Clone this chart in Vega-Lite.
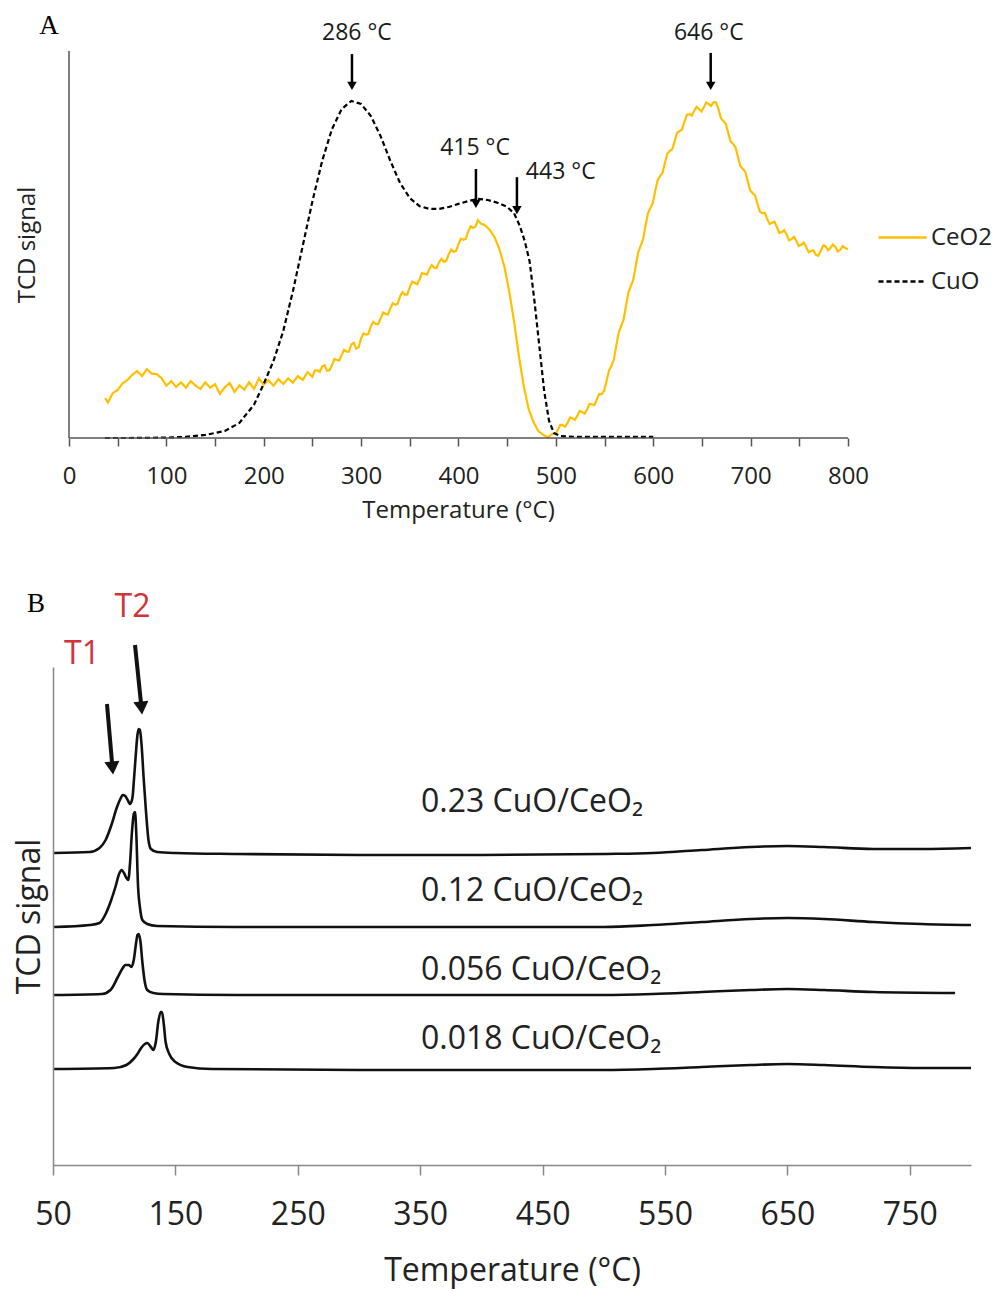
{
  "$schema": "https://vega.github.io/schema/vega-lite/v6.json",
  "padding": {"left": 13, "top": 11, "right": 0, "bottom": 8},
  "background": "white",
  "spacing": 67,
  "config": {
    "view": {"stroke": null},
    "font": "Open Sans",
    "axis": {"grid": false}
  },
  "datasets": {
    "tprA": [
      {"series": "CeO2", "T": 37, "v": 10.3}, {"series": "CeO2", "T": 40, "v": 9.2}, {"series": "CeO2", "T": 45, "v": 11.6},
      {"series": "CeO2", "T": 50, "v": 12.4}, {"series": "CeO2", "T": 55, "v": 14.1}, {"series": "CeO2", "T": 60, "v": 15.0},
      {"series": "CeO2", "T": 65, "v": 16.3}, {"series": "CeO2", "T": 70, "v": 17.3}, {"series": "CeO2", "T": 75, "v": 16.0},
      {"series": "CeO2", "T": 80, "v": 17.8}, {"series": "CeO2", "T": 85, "v": 16.6}, {"series": "CeO2", "T": 90, "v": 16.5},
      {"series": "CeO2", "T": 95, "v": 15.5}, {"series": "CeO2", "T": 100, "v": 13.5}, {"series": "CeO2", "T": 105, "v": 14.7},
      {"series": "CeO2", "T": 110, "v": 13.2}, {"series": "CeO2", "T": 115, "v": 14.4}, {"series": "CeO2", "T": 120, "v": 13.0},
      {"series": "CeO2", "T": 125, "v": 14.7}, {"series": "CeO2", "T": 130, "v": 13.5}, {"series": "CeO2", "T": 135, "v": 12.7},
      {"series": "CeO2", "T": 140, "v": 14.4}, {"series": "CeO2", "T": 145, "v": 13.0}, {"series": "CeO2", "T": 150, "v": 13.9},
      {"series": "CeO2", "T": 155, "v": 11.4}, {"series": "CeO2", "T": 160, "v": 13.1}, {"series": "CeO2", "T": 165, "v": 14.2},
      {"series": "CeO2", "T": 170, "v": 11.9}, {"series": "CeO2", "T": 175, "v": 13.6}, {"series": "CeO2", "T": 180, "v": 12.5},
      {"series": "CeO2", "T": 185, "v": 14.4}, {"series": "CeO2", "T": 190, "v": 12.7}, {"series": "CeO2", "T": 195, "v": 15.4},
      {"series": "CeO2", "T": 200, "v": 13.8}, {"series": "CeO2", "T": 205, "v": 14.9}, {"series": "CeO2", "T": 210, "v": 13.5},
      {"series": "CeO2", "T": 215, "v": 15.2}, {"series": "CeO2", "T": 220, "v": 14.0}, {"series": "CeO2", "T": 225, "v": 15.4},
      {"series": "CeO2", "T": 230, "v": 14.3}, {"series": "CeO2", "T": 235, "v": 16.0}, {"series": "CeO2", "T": 240, "v": 15.0},
      {"series": "CeO2", "T": 245, "v": 17.0}, {"series": "CeO2", "T": 250, "v": 15.8}, {"series": "CeO2", "T": 255, "v": 17.5},
      {"series": "CeO2", "T": 260, "v": 18.5}, {"series": "CeO2", "T": 265, "v": 17.4}, {"series": "CeO2", "T": 270, "v": 18.8},
      {"series": "CeO2", "T": 275, "v": 20.2}, {"series": "CeO2", "T": 280, "v": 21.4}, {"series": "CeO2", "T": 285, "v": 22.3},
      {"series": "CeO2", "T": 290, "v": 24.2}, {"series": "CeO2", "T": 295, "v": 23.1}, {"series": "CeO2", "T": 300, "v": 25.8},
      {"series": "CeO2", "T": 305, "v": 26.7}, {"series": "CeO2", "T": 310, "v": 28.9}, {"series": "CeO2", "T": 315, "v": 29.5},
      {"series": "CeO2", "T": 320, "v": 30.9}, {"series": "CeO2", "T": 325, "v": 32.1}, {"series": "CeO2", "T": 330, "v": 33.5},
      {"series": "CeO2", "T": 335, "v": 34.4}, {"series": "CeO2", "T": 340, "v": 36.6}, {"series": "CeO2", "T": 345, "v": 37.0},
      {"series": "CeO2", "T": 350, "v": 39.0}, {"series": "CeO2", "T": 355, "v": 40.1}, {"series": "CeO2", "T": 360, "v": 41.0},
      {"series": "CeO2", "T": 365, "v": 42.4}, {"series": "CeO2", "T": 370, "v": 43.6}, {"series": "CeO2", "T": 375, "v": 44.0},
      {"series": "CeO2", "T": 380, "v": 45.4}, {"series": "CeO2", "T": 385, "v": 45.5}, {"series": "CeO2", "T": 390, "v": 47.5},
      {"series": "CeO2", "T": 395, "v": 48.1}, {"series": "CeO2", "T": 400, "v": 50.1}, {"series": "CeO2", "T": 405, "v": 51.2},
      {"series": "CeO2", "T": 410, "v": 53.4}, {"series": "CeO2", "T": 415, "v": 54.3}, {"series": "CeO2", "T": 420, "v": 56.3},
      {"series": "CeO2", "T": 423, "v": 55.4}, {"series": "CeO2", "T": 427, "v": 55.0}, {"series": "CeO2", "T": 432, "v": 53.8},
      {"series": "CeO2", "T": 437, "v": 51.9}, {"series": "CeO2", "T": 442, "v": 48.8}, {"series": "CeO2", "T": 447, "v": 44.4},
      {"series": "CeO2", "T": 452, "v": 38.0}, {"series": "CeO2", "T": 457, "v": 30.2}, {"series": "CeO2", "T": 462, "v": 21.2},
      {"series": "CeO2", "T": 467, "v": 13.4}, {"series": "CeO2", "T": 472, "v": 7.5}, {"series": "CeO2", "T": 477, "v": 4.1},
      {"series": "CeO2", "T": 482, "v": 1.8}, {"series": "CeO2", "T": 487, "v": 0.8}, {"series": "CeO2", "T": 492, "v": 0.2},
      {"series": "CeO2", "T": 497, "v": 1.2}, {"series": "CeO2", "T": 502, "v": 2.1}, {"series": "CeO2", "T": 507, "v": 3.3},
      {"series": "CeO2", "T": 512, "v": 3.9}, {"series": "CeO2", "T": 517, "v": 5.1}, {"series": "CeO2", "T": 522, "v": 5.7},
      {"series": "CeO2", "T": 527, "v": 6.7}, {"series": "CeO2", "T": 532, "v": 7.3}, {"series": "CeO2", "T": 537, "v": 8.7},
      {"series": "CeO2", "T": 542, "v": 9.9}, {"series": "CeO2", "T": 547, "v": 11.3}, {"series": "CeO2", "T": 552, "v": 14.7},
      {"series": "CeO2", "T": 557, "v": 18.6}, {"series": "CeO2", "T": 562, "v": 23.8}, {"series": "CeO2", "T": 567, "v": 28.9},
      {"series": "CeO2", "T": 572, "v": 34.1}, {"series": "CeO2", "T": 577, "v": 39.3}, {"series": "CeO2", "T": 582, "v": 44.4},
      {"series": "CeO2", "T": 587, "v": 49.6}, {"series": "CeO2", "T": 592, "v": 54.8}, {"series": "CeO2", "T": 597, "v": 59.4},
      {"series": "CeO2", "T": 602, "v": 63.8}, {"series": "CeO2", "T": 607, "v": 67.7}, {"series": "CeO2", "T": 612, "v": 71.1},
      {"series": "CeO2", "T": 617, "v": 74.2}, {"series": "CeO2", "T": 622, "v": 76.7}, {"series": "CeO2", "T": 627, "v": 79.3},
      {"series": "CeO2", "T": 632, "v": 81.7}, {"series": "CeO2", "T": 637, "v": 83.7}, {"series": "CeO2", "T": 642, "v": 84.5},
      {"series": "CeO2", "T": 647, "v": 85.0}, {"series": "CeO2", "T": 652, "v": 85.5}, {"series": "CeO2", "T": 657, "v": 86.3},
      {"series": "CeO2", "T": 662, "v": 86.8}, {"series": "CeO2", "T": 667, "v": 85.0}, {"series": "CeO2", "T": 672, "v": 81.9},
      {"series": "CeO2", "T": 677, "v": 78.8}, {"series": "CeO2", "T": 682, "v": 76.0}, {"series": "CeO2", "T": 687, "v": 72.6},
      {"series": "CeO2", "T": 692, "v": 69.5}, {"series": "CeO2", "T": 697, "v": 66.4}, {"series": "CeO2", "T": 702, "v": 63.3},
      {"series": "CeO2", "T": 707, "v": 60.5}, {"series": "CeO2", "T": 712, "v": 58.1}, {"series": "CeO2", "T": 717, "v": 56.6},
      {"series": "CeO2", "T": 722, "v": 55.6}, {"series": "CeO2", "T": 727, "v": 54.5}, {"series": "CeO2", "T": 732, "v": 53.2},
      {"series": "CeO2", "T": 737, "v": 52.5}, {"series": "CeO2", "T": 742, "v": 51.4}, {"series": "CeO2", "T": 747, "v": 50.9},
      {"series": "CeO2", "T": 752, "v": 49.9}, {"series": "CeO2", "T": 757, "v": 49.4}, {"series": "CeO2", "T": 762, "v": 48.3},
      {"series": "CeO2", "T": 767, "v": 47.3}, {"series": "CeO2", "T": 772, "v": 48.3}, {"series": "CeO2", "T": 777, "v": 49.6},
      {"series": "CeO2", "T": 782, "v": 49.1}, {"series": "CeO2", "T": 787, "v": 49.4}, {"series": "CeO2", "T": 792, "v": 48.6},
      {"series": "CeO2", "T": 797, "v": 49.1}, {"series": "CeO2", "T": 800, "v": 48.8},
      {"series": "CeO2", "T": 252.5, "v": 17.5}, {"series": "CeO2", "T": 257.5, "v": 17.1}, {"series": "CeO2", "T": 262.5, "v": 18.8},
      {"series": "CeO2", "T": 267.5, "v": 17.5}, {"series": "CeO2", "T": 272.5, "v": 20.4}, {"series": "CeO2", "T": 277.5, "v": 20.0},
      {"series": "CeO2", "T": 282.5, "v": 22.8}, {"series": "CeO2", "T": 287.5, "v": 22.3}, {"series": "CeO2", "T": 292.5, "v": 24.6},
      {"series": "CeO2", "T": 297.5, "v": 23.5}, {"series": "CeO2", "T": 302.5, "v": 27.0}, {"series": "CeO2", "T": 307.5, "v": 26.9},
      {"series": "CeO2", "T": 312.5, "v": 30.0}, {"series": "CeO2", "T": 317.5, "v": 29.4}, {"series": "CeO2", "T": 322.5, "v": 32.4},
      {"series": "CeO2", "T": 327.5, "v": 31.9}, {"series": "CeO2", "T": 332.5, "v": 34.8}, {"series": "CeO2", "T": 337.5, "v": 34.7},
      {"series": "CeO2", "T": 342.5, "v": 37.7}, {"series": "CeO2", "T": 347.5, "v": 37.1}, {"series": "CeO2", "T": 352.5, "v": 40.4},
      {"series": "CeO2", "T": 357.5, "v": 39.7}, {"series": "CeO2", "T": 362.5, "v": 42.6}, {"series": "CeO2", "T": 367.5, "v": 42.2},
      {"series": "CeO2", "T": 372.5, "v": 44.7}, {"series": "CeO2", "T": 377.5, "v": 43.9}, {"series": "CeO2", "T": 382.5, "v": 46.3},
      {"series": "CeO2", "T": 387.5, "v": 45.8}, {"series": "CeO2", "T": 392.5, "v": 48.7}, {"series": "CeO2", "T": 397.5, "v": 48.3},
      {"series": "CeO2", "T": 402.5, "v": 51.5}, {"series": "CeO2", "T": 407.5, "v": 51.5}, {"series": "CeO2", "T": 412.5, "v": 54.7},
      {"series": "CeO2", "T": 417.5, "v": 54.6},
      {"series": "CeO2", "T": 499.5, "v": 1.0}, {"series": "CeO2", "T": 504.5, "v": 3.4}, {"series": "CeO2", "T": 509.5, "v": 2.9},
      {"series": "CeO2", "T": 514.5, "v": 5.3}, {"series": "CeO2", "T": 519.5, "v": 4.7}, {"series": "CeO2", "T": 524.5, "v": 7.0},
      {"series": "CeO2", "T": 529.5, "v": 6.3}, {"series": "CeO2", "T": 534.5, "v": 8.8}, {"series": "CeO2", "T": 539.5, "v": 8.5},
      {"series": "CeO2", "T": 544.5, "v": 11.4}, {"series": "CeO2", "T": 549.5, "v": 12.2}, {"series": "CeO2", "T": 554.5, "v": 17.4},
      {"series": "CeO2", "T": 559.5, "v": 20.3}, {"series": "CeO2", "T": 564.5, "v": 27.2}, {"series": "CeO2", "T": 569.5, "v": 30.6},
      {"series": "CeO2", "T": 574.5, "v": 37.6}, {"series": "CeO2", "T": 579.5, "v": 40.9}, {"series": "CeO2", "T": 584.5, "v": 47.9},
      {"series": "CeO2", "T": 589.5, "v": 51.3}, {"series": "CeO2", "T": 594.5, "v": 58.0}, {"series": "CeO2", "T": 599.5, "v": 60.7},
      {"series": "CeO2", "T": 604.5, "v": 66.6}, {"series": "CeO2", "T": 609.5, "v": 68.5}, {"series": "CeO2", "T": 614.5, "v": 73.5},
      {"series": "CeO2", "T": 619.5, "v": 74.6}, {"series": "CeO2", "T": 624.5, "v": 78.9}, {"series": "CeO2", "T": 629.5, "v": 79.7},
      {"series": "CeO2", "T": 634.5, "v": 83.5}, {"series": "CeO2", "T": 639.5, "v": 83.3}, {"series": "CeO2", "T": 644.5, "v": 85.6},
      {"series": "CeO2", "T": 649.5, "v": 84.4}, {"series": "CeO2", "T": 654.5, "v": 86.7}, {"series": "CeO2", "T": 659.5, "v": 85.8},
      {"series": "CeO2", "T": 664.5, "v": 86.7}, {"series": "CeO2", "T": 669.5, "v": 82.6}, {"series": "CeO2", "T": 674.5, "v": 81.2},
      {"series": "CeO2", "T": 679.5, "v": 76.6}, {"series": "CeO2", "T": 684.5, "v": 75.1}, {"series": "CeO2", "T": 689.5, "v": 70.2},
      {"series": "CeO2", "T": 694.5, "v": 68.8}, {"series": "CeO2", "T": 699.5, "v": 64.0}, {"series": "CeO2", "T": 704.5, "v": 62.7},
      {"series": "CeO2", "T": 709.5, "v": 58.5}, {"series": "CeO2", "T": 714.5, "v": 58.2}, {"series": "CeO2", "T": 719.5, "v": 55.3},
      {"series": "CeO2", "T": 724.5, "v": 55.9}, {"series": "CeO2", "T": 729.5, "v": 53.0}, {"series": "CeO2", "T": 734.5, "v": 53.7},
      {"series": "CeO2", "T": 739.5, "v": 51.1}, {"series": "CeO2", "T": 744.5, "v": 52.0}, {"series": "CeO2", "T": 749.5, "v": 49.6},
      {"series": "CeO2", "T": 754.5, "v": 50.5}, {"series": "CeO2", "T": 759.5, "v": 48.0}, {"series": "CeO2", "T": 764.5, "v": 48.5},
      {"series": "CeO2", "T": 769.5, "v": 47.1}, {"series": "CeO2", "T": 774.5, "v": 49.8}, {"series": "CeO2", "T": 779.5, "v": 48.5},
      {"series": "CeO2", "T": 784.5, "v": 50.0}, {"series": "CeO2", "T": 789.5, "v": 48.2}, {"series": "CeO2", "T": 794.5, "v": 49.6},
      {"series": "CuO", "T": 37, "v": 0.0}, {"series": "CuO", "T": 60, "v": 0.0}, {"series": "CuO", "T": 100, "v": 0.1},
      {"series": "CuO", "T": 120, "v": 0.3}, {"series": "CuO", "T": 140, "v": 0.8}, {"series": "CuO", "T": 160, "v": 1.8},
      {"series": "CuO", "T": 175, "v": 3.9}, {"series": "CuO", "T": 190, "v": 8.6}, {"series": "CuO", "T": 200, "v": 14.0},
      {"series": "CuO", "T": 210, "v": 19.9}, {"series": "CuO", "T": 220, "v": 27.6}, {"series": "CuO", "T": 230, "v": 38.0},
      {"series": "CuO", "T": 240, "v": 49.6}, {"series": "CuO", "T": 250, "v": 61.2}, {"series": "CuO", "T": 260, "v": 71.6},
      {"series": "CuO", "T": 270, "v": 79.8}, {"series": "CuO", "T": 280, "v": 85.0}, {"series": "CuO", "T": 290, "v": 87.1},
      {"series": "CuO", "T": 300, "v": 86.3}, {"series": "CuO", "T": 310, "v": 83.2}, {"series": "CuO", "T": 320, "v": 78.0},
      {"series": "CuO", "T": 330, "v": 71.6}, {"series": "CuO", "T": 340, "v": 65.9}, {"series": "CuO", "T": 350, "v": 62.0},
      {"series": "CuO", "T": 360, "v": 59.9}, {"series": "CuO", "T": 370, "v": 59.2}, {"series": "CuO", "T": 380, "v": 59.2},
      {"series": "CuO", "T": 390, "v": 59.7}, {"series": "CuO", "T": 400, "v": 60.5}, {"series": "CuO", "T": 410, "v": 61.2},
      {"series": "CuO", "T": 420, "v": 61.8}, {"series": "CuO", "T": 430, "v": 61.5}, {"series": "CuO", "T": 440, "v": 60.8},
      {"series": "CuO", "T": 450, "v": 59.7}, {"series": "CuO", "T": 457, "v": 58.1}, {"series": "CuO", "T": 463, "v": 54.8},
      {"series": "CuO", "T": 468, "v": 50.9}, {"series": "CuO", "T": 473, "v": 45.7}, {"series": "CuO", "T": 478, "v": 35.4},
      {"series": "CuO", "T": 483, "v": 23.8}, {"series": "CuO", "T": 488, "v": 12.1}, {"series": "CuO", "T": 493, "v": 4.4},
      {"series": "CuO", "T": 498, "v": 1.3}, {"series": "CuO", "T": 505, "v": 0.5}, {"series": "CuO", "T": 520, "v": 0.3},
      {"series": "CuO", "T": 600, "v": 0.3}
    ],
    "arrowsA": [
      {"T": 290.6, "top": 99.2, "head": 91.0},
      {"T": 417.9, "top": 69.5, "head": 60.5},
      {"T": 460.0, "top": 67.4, "head": 58.9},
      {"T": 659.0, "top": 99.5, "head": 91.0}
    ],
    "labelsA": [
      {"T": 295.7, "v": 104.7, "label": "286 °C"},
      {"T": 417.0, "v": 74.9, "label": "415 °C"},
      {"T": 505.0, "v": 68.7, "label": "443 °C"},
      {"T": 657.0, "v": 104.7, "label": "646 °C"}
    ],
    "panelA": [
      {"T": -20.5, "v": 104.5, "label": "A"}
    ],
    "tprB": [
      {"sample": "0.23", "T": 51, "v": 312}, {"sample": "0.23", "T": 80, "v": 313}, {"sample": "0.23", "T": 88, "v": 317},
      {"sample": "0.23", "T": 93, "v": 325}, {"sample": "0.23", "T": 98, "v": 341}, {"sample": "0.23", "T": 102, "v": 357},
      {"sample": "0.23", "T": 105, "v": 366}, {"sample": "0.23", "T": 107, "v": 370}, {"sample": "0.23", "T": 109, "v": 369},
      {"sample": "0.23", "T": 111, "v": 365}, {"sample": "0.23", "T": 113, "v": 361}, {"sample": "0.23", "T": 115, "v": 368},
      {"sample": "0.23", "T": 116, "v": 383}, {"sample": "0.23", "T": 117.5, "v": 408}, {"sample": "0.23", "T": 119, "v": 430},
      {"sample": "0.23", "T": 120, "v": 436}, {"sample": "0.23", "T": 121, "v": 435}, {"sample": "0.23", "T": 122.5, "v": 418},
      {"sample": "0.23", "T": 124, "v": 388}, {"sample": "0.23", "T": 126, "v": 353}, {"sample": "0.23", "T": 128, "v": 325},
      {"sample": "0.23", "T": 130, "v": 316}, {"sample": "0.23", "T": 135, "v": 313}, {"sample": "0.23", "T": 150, "v": 312},
      {"sample": "0.23", "T": 200, "v": 311}, {"sample": "0.23", "T": 300, "v": 310}, {"sample": "0.23", "T": 400, "v": 310},
      {"sample": "0.23", "T": 500, "v": 311}, {"sample": "0.23", "T": 540, "v": 312}, {"sample": "0.23", "T": 580, "v": 315},
      {"sample": "0.23", "T": 620, "v": 318}, {"sample": "0.23", "T": 650, "v": 319}, {"sample": "0.23", "T": 680, "v": 318},
      {"sample": "0.23", "T": 720, "v": 316}, {"sample": "0.23", "T": 760, "v": 316}, {"sample": "0.23", "T": 800, "v": 317},
      {"sample": "0.12", "T": 51, "v": 238}, {"sample": "0.12", "T": 80, "v": 240}, {"sample": "0.12", "T": 88, "v": 242},
      {"sample": "0.12", "T": 93, "v": 251}, {"sample": "0.12", "T": 97, "v": 263}, {"sample": "0.12", "T": 101, "v": 278},
      {"sample": "0.12", "T": 104, "v": 291}, {"sample": "0.12", "T": 106, "v": 295}, {"sample": "0.12", "T": 108, "v": 292},
      {"sample": "0.12", "T": 110, "v": 287}, {"sample": "0.12", "T": 111.5, "v": 285}, {"sample": "0.12", "T": 113, "v": 303},
      {"sample": "0.12", "T": 114.5, "v": 333}, {"sample": "0.12", "T": 116, "v": 351}, {"sample": "0.12", "T": 117, "v": 353},
      {"sample": "0.12", "T": 118, "v": 333}, {"sample": "0.12", "T": 119.5, "v": 278}, {"sample": "0.12", "T": 121, "v": 258},
      {"sample": "0.12", "T": 123, "v": 245}, {"sample": "0.12", "T": 127, "v": 241}, {"sample": "0.12", "T": 135, "v": 239},
      {"sample": "0.12", "T": 200, "v": 238}, {"sample": "0.12", "T": 300, "v": 238}, {"sample": "0.12", "T": 400, "v": 238},
      {"sample": "0.12", "T": 500, "v": 238}, {"sample": "0.12", "T": 540, "v": 240}, {"sample": "0.12", "T": 580, "v": 243},
      {"sample": "0.12", "T": 620, "v": 246}, {"sample": "0.12", "T": 650, "v": 247}, {"sample": "0.12", "T": 680, "v": 246},
      {"sample": "0.12", "T": 720, "v": 243}, {"sample": "0.12", "T": 760, "v": 241}, {"sample": "0.12", "T": 800, "v": 240},
      {"sample": "0.056", "T": 51, "v": 170}, {"sample": "0.056", "T": 90, "v": 171}, {"sample": "0.056", "T": 97, "v": 175},
      {"sample": "0.056", "T": 103, "v": 188}, {"sample": "0.056", "T": 107, "v": 197}, {"sample": "0.056", "T": 109, "v": 200},
      {"sample": "0.056", "T": 112, "v": 200}, {"sample": "0.056", "T": 114, "v": 198}, {"sample": "0.056", "T": 116, "v": 205},
      {"sample": "0.056", "T": 118, "v": 223}, {"sample": "0.056", "T": 119, "v": 230}, {"sample": "0.056", "T": 120, "v": 231},
      {"sample": "0.056", "T": 121.5, "v": 223}, {"sample": "0.056", "T": 123, "v": 203}, {"sample": "0.056", "T": 125, "v": 183},
      {"sample": "0.056", "T": 127, "v": 175}, {"sample": "0.056", "T": 132, "v": 172}, {"sample": "0.056", "T": 140, "v": 171},
      {"sample": "0.056", "T": 200, "v": 170}, {"sample": "0.056", "T": 300, "v": 170}, {"sample": "0.056", "T": 400, "v": 170},
      {"sample": "0.056", "T": 500, "v": 170}, {"sample": "0.056", "T": 540, "v": 171}, {"sample": "0.056", "T": 580, "v": 173},
      {"sample": "0.056", "T": 620, "v": 175}, {"sample": "0.056", "T": 650, "v": 176}, {"sample": "0.056", "T": 680, "v": 175},
      {"sample": "0.056", "T": 720, "v": 173}, {"sample": "0.056", "T": 787, "v": 172},
      {"sample": "0.018", "T": 51, "v": 96}, {"sample": "0.018", "T": 100, "v": 97}, {"sample": "0.018", "T": 110, "v": 100},
      {"sample": "0.018", "T": 115, "v": 105}, {"sample": "0.018", "T": 119, "v": 111}, {"sample": "0.018", "T": 122, "v": 117},
      {"sample": "0.018", "T": 125, "v": 121}, {"sample": "0.018", "T": 127, "v": 122}, {"sample": "0.018", "T": 130, "v": 118},
      {"sample": "0.018", "T": 132, "v": 115}, {"sample": "0.018", "T": 134, "v": 123}, {"sample": "0.018", "T": 136, "v": 143},
      {"sample": "0.018", "T": 138, "v": 153}, {"sample": "0.018", "T": 139, "v": 153}, {"sample": "0.018", "T": 140.5, "v": 141},
      {"sample": "0.018", "T": 142, "v": 123}, {"sample": "0.018", "T": 145, "v": 111}, {"sample": "0.018", "T": 150, "v": 103},
      {"sample": "0.018", "T": 160, "v": 98}, {"sample": "0.018", "T": 180, "v": 96}, {"sample": "0.018", "T": 300, "v": 95},
      {"sample": "0.018", "T": 400, "v": 95}, {"sample": "0.018", "T": 500, "v": 95}, {"sample": "0.018", "T": 540, "v": 96},
      {"sample": "0.018", "T": 580, "v": 98}, {"sample": "0.018", "T": 620, "v": 100}, {"sample": "0.018", "T": 650, "v": 101},
      {"sample": "0.018", "T": 680, "v": 100}, {"sample": "0.018", "T": 720, "v": 98}, {"sample": "0.018", "T": 760, "v": 97},
      {"sample": "0.018", "T": 800, "v": 97}
    ],
    "labelsB": [
      {"T": 350.6, "v": 353, "label": "0.23 CuO/CeO₂"},
      {"T": 350.6, "v": 264, "label": "0.12 CuO/CeO₂"},
      {"T": 350.6, "v": 185, "label": "0.056 CuO/CeO₂"},
      {"T": 350.6, "v": 116, "label": "0.018 CuO/CeO₂"}
    ],
    "peaksB": [
      {"T": 73.7, "v": 511, "label": "T1"},
      {"T": 115.0, "v": 558, "label": "T2"}
    ],
    "panelB": [
      {"T": 36.1, "v": 553, "label": "B"}
    ],
    "arrowsB": [
      {"Ta": 94.1, "Tb": 98.6, "top": 461, "head": 397},
      {"Ta": 117.0, "Tb": 122.3, "top": 520, "head": 457}
    ]
  },
  "vconcat": [
    {
      "width": 795,
      "height": 387,
      "layer": [
        {
          "data": {"name": "tprA"},
          "mark": {"type": "line", "strokeWidth": 2.2},
          "encoding": {
            "x": {"field": "T", "type": "quantitative", "scale": {"domain": [-16.43, 800], "nice": false},
              "axis": {"title": "Temperature (°C)", "titleX": 405, "domain": false, "values": [0, 50, 100, 150, 200, 250, 300, 350, 400, 450, 500, 550, 600, 650, 700, 750, 800],
                "labelExpr": "datum.value % 100 === 0 ? datum.label : ''", "labelOverlap": false, "labelFlush": false, "labelBound": false,
                "tickSize": 8, "tickColor": "#555", "tickWidth": 1.5,
                "labelFontSize": 24, "labelColor": "#222", "labelPadding": 18, "titleFontSize": 24, "titleFontWeight": "normal", "titleColor": "#222", "titlePadding": 10}},
            "y": {"field": "v", "type": "quantitative", "scale": {"domain": [0, 100], "nice": false},
              "axis": {"title": "TCD signal", "labels": false, "ticks": false, "domain": false,
                "titleFontSize": 24, "titleFontWeight": "normal", "titleColor": "#222", "titlePadding": 14}},
            "color": {"field": "series", "type": "nominal", "scale": {"domain": ["CeO2", "CuO"], "range": ["#FFC000", "#000000"]},
              "legend": {"title": null, "orient": "none", "legendX": 824, "legendY": 161, "symbolType": "stroke", "symbolSize": 2304,
                "symbolStrokeWidth": 2.5, "labelFontSize": 24, "labelColor": "#222", "labelOffset": 3, "rowPadding": 6, "padding": 0}},
            "strokeDash": {"field": "series", "type": "nominal", "scale": {"domain": ["CeO2", "CuO"], "range": [[1, 0], [5, 3]]}}
          }
        },
        {
          "data": {"values": [{}]},
          "mark": {"type": "rule", "strokeWidth": 1.5, "color": "#555"},
          "encoding": {
            "x": {"datum": 0, "type": "quantitative"},
            "x2": {"datum": 800},
            "y": {"datum": 0, "type": "quantitative"}
          }
        },
        {
          "data": {"values": [{}]},
          "mark": {"type": "rule", "strokeWidth": 1.5, "color": "#555"},
          "encoding": {
            "x": {"datum": 0, "type": "quantitative"},
            "y": {"datum": 0, "type": "quantitative"},
            "y2": {"datum": 100}
          }
        },
        {
          "data": {"name": "arrowsA"},
          "mark": {"type": "rule", "strokeWidth": 2.5, "color": "#000"},
          "encoding": {
            "x": {"field": "T", "type": "quantitative"},
            "y": {"field": "top", "type": "quantitative"},
            "y2": {"field": "head"}
          }
        },
        {
          "data": {"name": "arrowsA"},
          "mark": {"type": "point", "shape": "triangle-down", "filled": true, "size": 90, "color": "#000", "opacity": 1},
          "encoding": {
            "x": {"field": "T", "type": "quantitative"},
            "y": {"field": "head", "type": "quantitative"}
          }
        },
        {
          "data": {"name": "labelsA"},
          "mark": {"type": "text", "fontSize": 23, "baseline": "middle", "align": "center", "color": "#1a1a1a"},
          "encoding": {
            "x": {"field": "T", "type": "quantitative"},
            "y": {"field": "v", "type": "quantitative"},
            "text": {"field": "label"}
          }
        },
        {
          "data": {"name": "panelA"},
          "mark": {"type": "text", "font": "Liberation Serif", "fontSize": 27, "baseline": "alphabetic", "align": "center", "color": "#000"},
          "encoding": {
            "x": {"field": "T", "type": "quantitative"},
            "y": {"field": "v", "type": "quantitative"},
            "text": {"field": "label"}
          }
        }
      ]
    },
    {
      "width": 918,
      "height": 498,
      "layer": [
        {
          "data": {"name": "tprB"},
          "mark": {"type": "line", "strokeWidth": 2.6, "color": "#111", "interpolate": "monotone"},
          "encoding": {
            "x": {"field": "T", "type": "quantitative", "scale": {"domain": [50, 800], "nice": false},
              "axis": {"title": "Temperature (°C)", "values": [50, 150, 250, 350, 450, 550, 650, 750],
                "tickSize": 10, "tickColor": "#888", "domainColor": "#888", "domainWidth": 1.5, "tickWidth": 1.5,
                "labelFontSize": 32, "labelColor": "#222", "labelPadding": 24, "labelFlush": false, "labelOverlap": false,
                "titleFontSize": 32, "titleFontWeight": "normal", "titleColor": "#222", "titlePadding": 25}},
            "y": {"field": "v", "type": "quantitative", "scale": {"domain": [0, 498], "nice": false},
              "axis": {"title": "TCD signal", "labels": false, "ticks": false, "domainColor": "#888", "domainWidth": 1.5,
                "titleFontSize": 32, "titleFontWeight": "normal", "titleColor": "#222", "titlePadding": 7}},
            "detail": {"field": "sample", "type": "nominal"}
          }
        },
        {
          "data": {"name": "arrowsB"},
          "mark": {"type": "rule", "strokeWidth": 4, "color": "#111"},
          "encoding": {
            "x": {"field": "Ta", "type": "quantitative"},
            "x2": {"field": "Tb"},
            "y": {"field": "top", "type": "quantitative"},
            "y2": {"field": "head"}
          }
        },
        {
          "data": {"name": "arrowsB"},
          "mark": {"type": "point", "shape": "triangle-down", "filled": true, "size": 230, "color": "#111", "opacity": 1, "angle": 354.6},
          "encoding": {
            "x": {"field": "Tb", "type": "quantitative"},
            "y": {"field": "head", "type": "quantitative"}
          }
        },
        {
          "data": {"name": "peaksB"},
          "mark": {"type": "text", "fontSize": 32, "baseline": "middle", "align": "center", "color": "#D0343A"},
          "encoding": {
            "x": {"field": "T", "type": "quantitative"},
            "y": {"field": "v", "type": "quantitative"},
            "text": {"field": "label"}
          }
        },
        {
          "data": {"name": "labelsB"},
          "mark": {"type": "text", "fontSize": 32, "baseline": "alphabetic", "align": "left", "color": "#222"},
          "encoding": {
            "x": {"field": "T", "type": "quantitative"},
            "y": {"field": "v", "type": "quantitative"},
            "text": {"field": "label"}
          }
        },
        {
          "data": {"name": "panelB"},
          "mark": {"type": "text", "font": "Liberation Serif", "fontSize": 27, "baseline": "alphabetic", "align": "center", "color": "#000"},
          "encoding": {
            "x": {"field": "T", "type": "quantitative"},
            "y": {"field": "v", "type": "quantitative"},
            "text": {"field": "label"}
          }
        }
      ]
    }
  ]
}
